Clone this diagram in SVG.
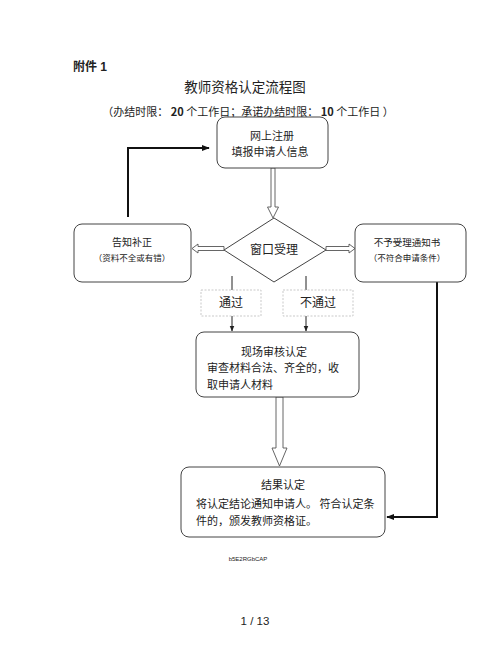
<svg xmlns="http://www.w3.org/2000/svg" width="500" height="647" viewBox="0 0 500 647">
<style>
text{font-family:"Noto Sans CJK SC","Liberation Sans",sans-serif;fill:#222;}
text.lat{font-family:"Liberation Sans","Noto Sans CJK SC",sans-serif;}
.box{fill:#fff;stroke:#444;stroke-width:1;}
.lab{fill:#fff;stroke:#bbb;stroke-width:0.8;stroke-dasharray:2 1.5;}
.hollow{fill:#fff;stroke:#555;stroke-width:0.9;}
.thick{fill:none;stroke:#111;stroke-width:2;}
.thin{fill:none;stroke:#222;stroke-width:1;}
</style>
<defs>
<marker id="ah" viewBox="0 0 10 10" refX="9" refY="5" markerWidth="4" markerHeight="4" orient="auto" markerUnits="strokeWidth"><path d="M0,1 L10,5 L0,9 Z" fill="#111"/></marker>
<marker id="ahs" viewBox="0 0 10 10" refX="9" refY="5" markerWidth="6" markerHeight="6" orient="auto" markerUnits="strokeWidth"><path d="M0,1 L10,5 L0,9 Z" fill="#222"/></marker>
</defs>
<rect width="500" height="647" fill="#fff"/>
<text class="lat" x="73" y="71" font-size="12" font-weight="bold">附件 1</text>
<text x="245" y="92" font-size="13.5" text-anchor="middle">教师资格认定流程图</text>
<text x="248" y="116" font-size="11" text-anchor="middle">（办结时限： <tspan class="lat" font-weight="bold">20</tspan> 个工作日；承诺办结时限：  <tspan font-weight="bold">10</tspan> 个工作日 ）</text>

<g id="connectors">
<polyline class="thick" points="128,217 128,148 209,148" marker-end="url(#ah)"/>
<polyline class="thick" points="437,282 437,517 387,517" marker-end="url(#ah)"/>
<polygon class="hollow" points="271,168 275,168 275,207 278.5,207 273,218 267.5,207 271,207"/>
<polygon class="hollow" points="224,246.5 198,246.5 198,244 192,248.5 198,253 198,250.5 224,250.5"/>
<polygon class="hollow" points="326,246.5 349,246.5 349,244 355,248.5 349,253 349,250.5 326,250.5"/>
<polygon class="hollow" points="276,397 283,397 283,448 287,448 279.5,466 272,448 276,448"/>
<line class="thin" x1="232" y1="276" x2="232" y2="331" marker-end="url(#ahs)"/>
<line class="thin" x1="306" y1="276" x2="306" y2="331" marker-end="url(#ahs)"/>
</g>

<g id="node-register">
<rect class="box" x="217" y="117" width="111" height="51" rx="8"/>
<text x="272" y="140" font-size="11" text-anchor="middle">网上注册</text>
<text x="270" y="156" font-size="11" text-anchor="middle">填报申请人信息</text>
</g>

<g id="node-window">
<polygon class="box" points="274,218 326,250 274,282 224,250"/>
<text x="274" y="254" font-size="12" text-anchor="middle">窗口受理</text>
</g>

<g id="node-notify-fix">
<rect class="box" x="74" y="224" width="117" height="58" rx="8"/>
<text x="132" y="246" font-size="10" text-anchor="middle">告知补正</text>
<text x="132" y="261" font-size="8.5" text-anchor="middle">（资料不全或有错）</text>
</g>

<g id="node-reject">
<rect class="box" x="355" y="224" width="111" height="58" rx="8"/>
<text x="407" y="246" font-size="9.5" text-anchor="middle">不予受理通知书</text>
<text x="407" y="261" font-size="8.5" text-anchor="middle">（不符合申请条件）</text>
</g>

<g id="label-pass">
<rect class="lab" x="201" y="290" width="60" height="26"/>
<text x="231" y="307" font-size="12" text-anchor="middle">通过</text>
</g>

<g id="label-fail">
<rect class="lab" x="283" y="290" width="70" height="26"/>
<text x="318" y="307" font-size="12" text-anchor="middle">不通过</text>
</g>

<g id="node-review">
<rect class="box" x="196" y="332" width="163" height="65" rx="8"/>
<text x="274" y="356" font-size="11" text-anchor="middle">现场审核认定</text>
<text x="207" y="372" font-size="11">审查材料合法、齐全的，收</text>
<text x="207" y="389" font-size="11">取申请人材料</text>
</g>

<g id="node-result">
<rect class="box" x="181" y="467" width="204" height="70" rx="8"/>
<text x="283" y="489" font-size="11" text-anchor="middle">结果认定</text>
<text x="196" y="508" font-size="11">将认定结论通知申请人。 符合认定条</text>
<text x="196" y="525" font-size="11">件的，颁发教师资格证。</text>
</g>

<text class="lat" x="248" y="561" font-size="6" text-anchor="middle">b5E2RGbCAP</text>
<text class="lat" x="255" y="625" font-size="11.5" text-anchor="middle">1 / 13</text>
</svg>
